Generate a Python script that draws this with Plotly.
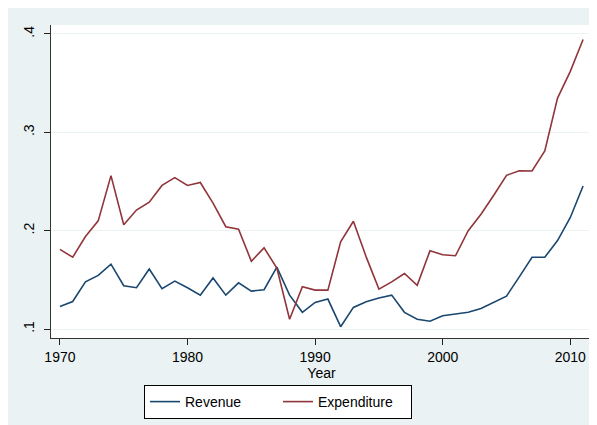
import plotly.graph_objects as go

years = list(range(1970, 2012))
revenue = [0.123, 0.128, 0.148, 0.1545, 0.166, 0.144, 0.142, 0.161, 0.141, 0.1487,
           0.142, 0.1345, 0.152, 0.1345, 0.147, 0.1386, 0.140, 0.163, 0.1345, 0.117,
           0.127, 0.1305, 0.1024, 0.122, 0.1277, 0.1315, 0.1345, 0.117, 0.110, 0.108,
           0.1135, 0.115, 0.117, 0.121, 0.1274, 0.1335, 0.153, 0.173, 0.173, 0.190,
           0.2134, 0.2455]
expenditure = [0.181, 0.173, 0.194, 0.210, 0.256, 0.206, 0.221, 0.229, 0.246, 0.254,
               0.246, 0.249, 0.228, 0.204, 0.2015, 0.169, 0.1825, 0.162, 0.110, 0.143,
               0.1396, 0.1396, 0.1886, 0.2096, 0.1734, 0.1406, 0.148, 0.1565, 0.1444, 0.1795,
               0.1755, 0.1745, 0.200, 0.2167, 0.236, 0.2563, 0.261, 0.2607, 0.281, 0.3348,
               0.362, 0.3944]
xticks = [1970, 1980, 1990, 2000, 2010]
yticks = [0.1, 0.2, 0.3, 0.4]
ytick_labels = [".1", ".2", ".3", ".4"]

# page body has an 8px margin; figure occupies (8,8)-(597,425)
OX, OY = 8, 8
W, H = 597 - OX, 425 - OY
L, R, T, B = 51 - OX, 592 - OX, 25 - OY, 338 - OY
pw, ph = R - L, B - T
BG = "#eaf2f3"
FONT = "Liberation Sans, Arial, sans-serif"

fig = go.Figure()
fig.add_trace(go.Scatter(x=years, y=revenue, mode="lines", name="Revenue",
                         line=dict(color="#1a476f", width=1.6)))
fig.add_trace(go.Scatter(x=years, y=expenditure, mode="lines", name="Expenditure",
                         line=dict(color="#90353b", width=1.6)))

def px_x(p):
    return (p - OX - L) / pw

def px_y(p):
    return (B - (p - OY)) / ph

fig.update_layout(
    width=W, height=H,
    margin=dict(l=L, r=W - R, t=T, b=H - B, pad=0),
    paper_bgcolor=BG, plot_bgcolor="white",
    font=dict(family=FONT, size=14, color="black"),
    showlegend=True,
    legend=dict(orientation="h", x=px_x(278), xanchor="center",
                y=px_y(385), yanchor="top",
                bgcolor="white", bordercolor="black", borderwidth=1,
                font=dict(size=14), entrywidth=88),
    xaxis=dict(range=[1969.3, 2011.7], tickvals=xticks, ticks="outside",
               ticklen=6, tickcolor="#222", showline=True, linecolor="#333",
               linewidth=1, showgrid=False, zeroline=False,
               title=dict(text="Year", standoff=0, font=dict(size=14))),
    yaxis=dict(range=[0.0909, 0.4091], tickvals=yticks, ticktext=ytick_labels,
               tickangle=-90, ticks="outside", ticklen=6, tickcolor="#222",
               ticklabelstandoff=4,
               showline=True, linecolor="#333", linewidth=1,
               showgrid=True, gridcolor=BG, gridwidth=1, zeroline=False),
)

fig.write_html("out.html")
